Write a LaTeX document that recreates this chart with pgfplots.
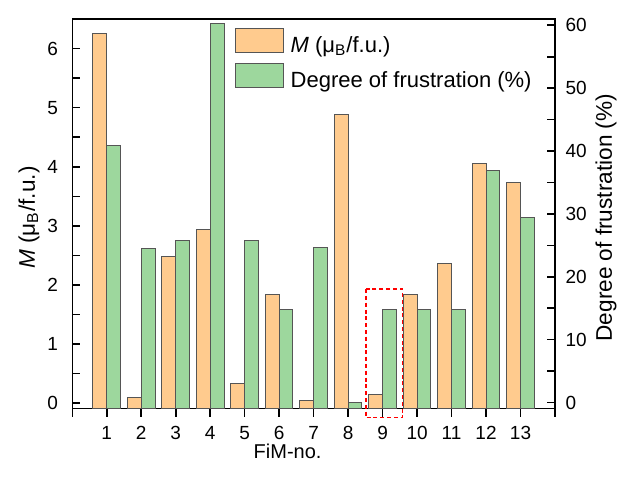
\documentclass[border=0pt]{standalone}
\usepackage{fontspec}
\setmainfont{Liberation Sans}
\usepackage{pgfplots}
\pgfplotsset{compat=1.18}
\usepackage{pgfplotstable}
\definecolor{orbar}{RGB}{255,203,142}
\definecolor{grbar}{RGB}{157,215,157}
\definecolor{edge}{RGB}{85,85,85}

\pgfplotstableread{
x  M     F
1  6.26  40.9
2  0.10  24.5
3  2.49  25.8
4  2.94  60.3
5  0.34  25.8
6  1.84  14.8
7  0.05  24.6
8  4.88  0.0
9  0.14  14.8
10 1.84  14.8
11 2.37  14.8
12 4.06  36.9
13 3.73  29.5
}\datatable

\pgfplotsset{
  common/.style={
    scale only axis,
    width=241.35pt, height=194.75pt,
    at={(36.15pt,36.25pt)}, anchor=south west,
    xmin=0, xmax=14,
    axis line style={line width=0.8pt},
    every tick/.style={line width=0.8pt, black},
    major tick length=4pt, minor tick length=4pt,
    /pgf/number format/assume math mode=true,
    tick label style={font=\fontsize{9.5}{11}\selectfont},
    legend image code/.code={\draw[##1,line width=0.5pt] (0pt,-3.45pt) rectangle (24pt,8.55pt);},
  },
}

\begin{document}
\begin{tikzpicture}
\useasboundingbox (0,0) rectangle (312pt,240.5pt);
\begin{axis}[common,
  ybar stacked, stack negative=on previous, bar width=0.4,
  ymin=-0.09, ymax=6.5,
  ytick={0,1,...,6}, minor ytick={0.5,1.5,...,5.5},
  ytick pos=left, xtick pos=bottom,
  ytick align=inside, xtick align=outside,
  xtick={0,...,14},
  xticklabels={{},1,2,3,4,5,6,7,8,9,10,11,12,13,{}},
  yticklabel style={xshift=-3.6pt},
  xticklabel style={yshift=-1.5pt},
  ylabel={\textit{M} (μ\textsubscript{B}/f.u.)},
  ylabel style={font=\fontsize{11.3}{13}\selectfont, at={(axis description cs:-0.0897,0.49)}, anchor=center},
  xlabel={FiM-no.},
  xlabel style={font=\fontsize{10}{12}\selectfont, at={(axis description cs:0.446,-0.109)}, anchor=center},
]
\addplot[draw=none, fill=none, bar shift=-0.2] coordinates
  {(1,-0.09) (2,-0.09) (3,-0.09) (4,-0.09) (5,-0.09) (6,-0.09) (7,-0.09) (8,-0.09) (9,-0.09) (10,-0.09) (11,-0.09) (12,-0.09) (13,-0.09)};
\addplot[fill=orbar, draw=edge, line width=0.5pt, bar shift=-0.2] table[x=x, y expr=\thisrow{M}+0.09] {\datatable};
\end{axis}
\begin{axis}[common,
  ybar stacked, stack negative=on previous, bar width=0.4,
  ymin=-0.95, ymax=61,
  axis x line=none,
  axis y line*=right,
  ytick={0,10,...,60}, minor ytick={5,15,...,55},
  ytick pos=right, ytick align=inside,
  yticklabel style={xshift=1.8pt},
  ylabel={Degree of frustration (\%)},
  ylabel style={font=\fontsize{11.3}{13}\selectfont, at={(axis description cs:1.1057,0.49)}, anchor=center},
]
\addplot[draw=none, fill=none, bar shift=0.2] coordinates
  {(1,-0.95) (2,-0.95) (3,-0.95) (4,-0.95) (5,-0.95) (6,-0.95) (7,-0.95) (8,-0.95) (9,-0.95) (10,-0.95) (11,-0.95) (12,-0.95) (13,-0.95)};
\addplot[fill=grbar, draw=edge, line width=0.5pt, bar shift=0.2] table[x=x, y expr=\thisrow{F}+0.95] {\datatable};
\end{axis}
\begin{axis}[common, hide axis, clip=false, ymin=-0.09, ymax=6.5,
  legend style={at={(axis description cs:0.3371,0.976)}, anchor=north west, draw=none, fill=none,
    inner sep=0pt, outer sep=0pt, row sep=3.85pt, column sep=3.35pt,
    font=\fontsize{11}{13}\selectfont, nodes={inner sep=0pt}},
  legend cell align=left,
]
\addlegendimage{fill=orbar, draw=edge}
\addlegendentry{\textit{M} (μ\textsubscript{B}/f.u.)}
\addlegendimage{fill=grbar, draw=edge}
\addlegendentry{Degree of frustration (\%)}
\draw[red, line width=0.8pt, dash pattern=on 2pt off 1.4pt] (axis cs:8.51,1.93) rectangle (axis cs:9.58,-0.24);
\end{axis}
\end{tikzpicture}
\end{document}
